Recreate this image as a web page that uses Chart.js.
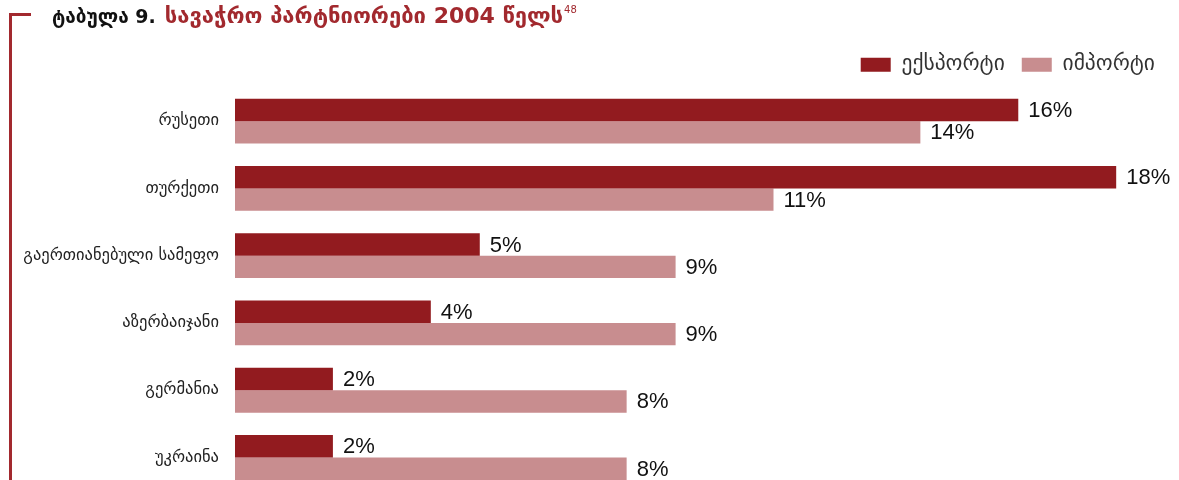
<!DOCTYPE html>
<html>
<head>
<meta charset="utf-8">
<script src="https://cdn.jsdelivr.net/npm/chart.js@4.4.1/dist/chart.umd.min.js"></script>
<style>
  html, body { margin: 0; padding: 0; background: #fff; overflow: hidden; }
  #wrap { position: absolute; left: 0; top: 0; width: 1179px; height: 509px; }
  #myChart { width: 1179px; height: 509px; }
  .frameV { position: absolute; left: 9px; top: 13px; width: 3px; height: 480px; background: #a2292e; }
  .frameH { position: absolute; left: 9px; top: 13px; width: 22px; height: 3px; background: #a2292e; }
  .title { position: absolute; left: 52px; top: 3px; font-family: "DejaVu Sans", sans-serif; font-weight: bold; font-size: 19px; color: #111; white-space: nowrap; }
  .title .red { color: #a2292e; margin-left: 9px; font-size: 22px; }
  .title sup { font-size: 10px; font-weight: normal; vertical-align: 10px; margin-left: 1px; }
</style>
</head>
<body>
<div id="wrap"><canvas id="myChart" width="1179" height="509"></canvas></div>
<div class="frameV"></div>
<div class="frameH"></div>
<div class="title">ტაბულა 9.<span class="red">სავაჭრო პარტნიორები 2004 წელს<sup>48</sup></span></div>
<script>
// trade partners 2004, percent
const countries = ["რუსეთი", "თურქეთი", "გაერთიანებული სამეფო", "აზერბაიჯანი", "გერმანია", "უკრაინა"];
const exportShare = [16, 18, 5, 4, 2, 2];
const importShare = [14, 11, 9, 9, 8, 8];
const seriesNames = ["ექსპორტი", "იმპორტი"];

const valueLabels = {
  id: "valueLabels",
  afterDatasetsDraw(chart) {
    const ctx = chart.ctx;
    ctx.save();
    ctx.font = "22px 'Liberation Sans', Arial, sans-serif";
    ctx.fillStyle = "#111";
    ctx.textBaseline = "middle";
    ctx.textAlign = "left";
    chart.data.datasets.forEach((ds, i) => {
      chart.getDatasetMeta(i).data.forEach((bar, j) => {
        ctx.fillText(ds.data[j] + "%", bar.x + 10, bar.y + 1);
      });
    });
    ctx.restore();
  }
};

// a bit more room under the legend
const legendGap = {
  id: "legendGap",
  beforeInit(chart) {
    const fit = chart.legend.fit;
    chart.legend.fit = function () {
      fit.bind(chart.legend)();
      this.height += 2;
    };
  }
};

new Chart("myChart", {
  type: "bar",
  data: {
    labels: countries,
    datasets: [
      { label: seriesNames[0], data: exportShare, backgroundColor: "#921b1f" },
      { label: seriesNames[1], data: importShare, backgroundColor: "#c88d8f" }
    ]
  },
  plugins: [valueLabels, legendGap],
  options: {
    indexAxis: "y",
    responsive: false,
    animation: false,
    layout: { padding: { top: 37, right: 7, bottom: 8, left: 0 } },
    categoryPercentage: 0.667,
    barPercentage: 1.0,
    plugins: {
      tooltip: { enabled: false },
      legend: {
        position: "top",
        align: "end",
        labels: {
          boxWidth: 30,
          boxHeight: 14,
          padding: 17,
          color: "#333",
          font: { family: "DejaVu Sans", size: 21.5 }
        }
      }
    },
    scales: {
      x: { display: false, min: 0, max: 19.14 },
      y: {
        grid: { display: false },
        border: { display: false },
        ticks: { color: "#222", padding: 8, font: { family: "DejaVu Sans", size: 16.5 } },
        afterFit(scale) { scale.width = 235; }
      }
    }
  }
});
</script>
</body>
</html>
